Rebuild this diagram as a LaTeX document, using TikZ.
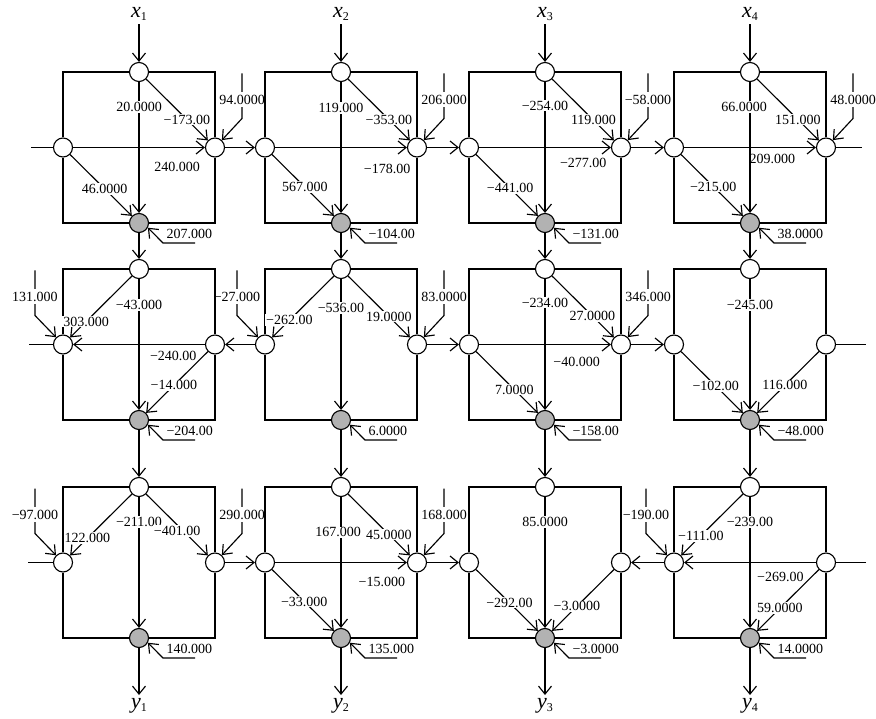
\documentclass[tikz,border=0pt]{standalone}
\usepackage{fontspec}
\setmainfont{Liberation Serif}
\usetikzlibrary{arrows.meta}

\begin{document}
\begin{tikzpicture}[x=1pt, y=-1pt, line width=1.15pt, every node/.style={font=\fontsize{14}{16}\selectfont}, >={Straight Barb[length=8pt, width=13pt]},
	nd/.style={circle, draw, fill=white, minimum size=19pt, inner sep=0pt},
	ndg/.style={nd, fill=gray!60},
	w/.style={fill=white, inner sep=1pt},
	hw/.style={inner sep=1pt},
	bw/.style={fill=white, inner xsep=0.5pt, inner ysep=3pt},
	bl/.style={anchor=south west, inner sep=1pt, xshift=2pt, yshift=3pt},
	io/.style={font=\fontsize{22}{24}\selectfont\itshape, inner sep=3pt}]
	\useasboundingbox (0,0) rectangle (876,719);
	% circles of the twelve cells, inputs and outputs
	\foreach \col/\cx in {1/139,2/341,3/545,4/750} {
		\foreach \row/\ty in {1/72,2/269,3/487} {
			\node[nd] (t\row\col) at (\cx,\ty) {};
			\node[nd] (l\row\col) at (\cx-76,\ty+75.5) {};
			\node[nd] (r\row\col) at (\cx+76,\ty+75.5) {};
			\node[ndg] (b\row\col) at (\cx,\ty+151) {};
		}
		\node[io] (x\col) at (\cx,14) {x\raisebox{-3pt}{\fontsize{12}{13}\selectfont\upshape\col}};
		\node[io] (y\col) at (\cx,706) {y\raisebox{-3pt}{\fontsize{12}{13}\selectfont\upshape\col}};
		\draw[->] (x\col) -- (t1\col);
		\draw[->] (b1\col) -- (t2\col);
		\draw[->] (b2\col) -- (t3\col);
		\draw[->] (b3\col) -- (y\col);
	}
	% biases
	\foreach \n/\v in {r11/94.0000, r12/206.000, r13/−58.000, r14/48.0000, r22/83.0000, r23/346.000, r31/290.000, r32/168.000}
		\draw[->] (\n) ++(27,-74) -- node[bw, pos=.58] {\v} ++(0,45) -- (\n);
	\foreach \n/\v in {l21/131.000, l22/−27.000, l31/−97.000, l34/−190.00}
		\draw[->] (\n) ++(-28,-74) -- node[bw, pos=.58] {\v} ++(0,45) -- (\n);
	\foreach \n/\v in {b11/207.000, b12/−104.00, b13/−131.00, b14/38.0000, b21/−204.00, b22/6.0000, b23/−158.00, b24/−48.000, b31/140.000, b32/135.000, b33/−3.0000, b34/14.0000}
		\draw[->] (\n) ++(56,20) -- ++(-32,0) node[bl] {\v} -- (\n.-28);
	% cell frames
	\foreach \col in {1,...,4}
		\foreach \row in {1,2,3}
			\draw (l\row\col) |- (t\row\col) -| (r\row\col) |- (b\row\col) -| (l\row\col);
	% links between cells
	\coordinate (w1) at (31,147.5);
	\coordinate (e1) at (862,147.5);
	\coordinate (w2) at (29,344.5);
	\coordinate (e2) at (866,344.5);
	\coordinate (w3) at (28,562.5);
	\coordinate (e3) at (866,562.5);
	\draw (w1) -- (l11);
	\draw (r14) -- (e1);
	\draw (l21) -- (w2);
	\draw (r24) -- (e2);
	\draw (w3) -- (l31);
	\draw (e3) -- (r34);
	\draw[->] (r11) -- (l12);
	\draw[->] (r12) -- (l13);
	\draw[->] (r13) -- (l14);
	\draw[->] (l22) -- (r21);
	\draw[->] (r22) -- (l23);
	\draw[->] (r23) -- (l24);
	\draw[->] (r31) -- (l32);
	\draw[->] (r32) -- (l33);
	\draw[->] (l34) -- (r33);
	% row 1
	\draw[->] (t11) -- node[w, pos=.19] {20.0000} (b11);
	\draw[->] (t11) -- node[w, pos=.66] {−173.00} (r11);
	\draw[->] (l11) -- node[hw, pos=.79, yshift=-19.5] {240.000} (r11);
	\draw[->] (l11) -- node[w, pos=.56] {46.0000} (b11);
	\draw[->] (t12) -- node[w, pos=.2] {119.000} (b12);
	\draw[->] (t12) -- node[w, pos=.66] {−353.00} (r12);
	\draw[->] (l12) -- node[hw, pos=.85, yshift=-21] {−178.00} (r12);
	\draw[->] (l12) -- node[w, pos=.53] {567.000} (b12);
	\draw[->] (t13) -- node[w, pos=.18] {−254.00} (b13);
	\draw[->] (t13) -- node[w, pos=.67] {119.000} (r13);
	\draw[->] (l13) -- node[hw, pos=.79, yshift=-15.5] {−277.00} (r13);
	\draw[->] (l13) -- node[w, pos=.55] {−441.00} (b13);
	\draw[->] (t14) -- node[w, pos=.19, xshift=-6] {66.0000} (b14);
	\draw[->] (t14) -- node[w, pos=.66] {151.000} (r14);
	\draw[->] (l14) -- node[hw, pos=.67, yshift=-11.5] {209.000} (r14);
	\draw[->] (l14) -- node[w, pos=.52] {−215.00} (b14);
	% row 2
	\draw[->] (t21) -- node[w, pos=.2] {−43.000} (b21);
	\draw[->] (t21) -- node[w, pos=.74] {303.000} (l21);
	\draw[->] (r21) -- node[hw, pos=.24, yshift=-11.5] {−240.00} (l21);
	\draw[->] (r21) -- node[w, pos=.55] {−14.000} (b21);
	\draw[->] (t22) -- node[w, pos=.22] {−536.00} (b22);
	\draw[->] (t22) -- node[w, pos=.72] {−262.00} (l22);
	\draw[->] (t22) -- node[w, pos=.66] {19.0000} (r22);
	\draw[->] (t23) -- node[w, pos=.18] {−234.00} (b23);
	\draw[->] (t23) -- node[w, pos=.65] {27.0000} (r23);
	\draw[->] (l23) -- node[hw, pos=.74, yshift=-17.5] {−40.000} (r23);
	\draw[->] (l23) -- node[w, pos=.62] {7.0000} (b23);
	\draw[->] (t24) -- node[w, pos=.2] {−245.00} (b24);
	\draw[->] (l24) -- node[w, pos=.56] {−102.00} (b24);
	\draw[->] (r24) -- node[w, pos=.55] {116.000} (b24);
	% row 3
	\draw[->] (t31) -- node[w, pos=.19] {−211.00} (b31);
	\draw[->] (t31) -- node[w, pos=.72] {122.000} (l31);
	\draw[->] (t31) -- node[w, pos=.6, xshift=-6] {−401.00} (r31);
	\draw[->] (t32) -- node[w, pos=.27, xshift=-3] {167.000} (b32);
	\draw[->] (t32) -- node[w, pos=.66] {45.0000} (r32);
	\draw[->] (l32) -- node[hw, pos=.81, yshift=-19.5] {−15.000} (r32);
	\draw[->] (l32) -- node[w, pos=.52] {−33.000} (b32);
	\draw[->] (t33) -- node[w, pos=.19] {85.0000} (b33);
	\draw[->] (l33) -- node[w, pos=.54] {−292.00} (b33);
	\draw[->] (r33) -- node[w, pos=.6] {−3.0000} (b33);
	\draw[->] (t34) -- node[w, pos=.19] {−239.00} (b34);
	\draw[->] (t34) -- node[w, pos=.68] {−111.00} (l34);
	\draw[->] (r34) -- node[hw, pos=.27, yshift=-14.5] {−269.00} (l34);
	\draw[->] (r34) -- node[w, pos=.63] {59.0000} (b34);
\end{tikzpicture}
\end{document}
